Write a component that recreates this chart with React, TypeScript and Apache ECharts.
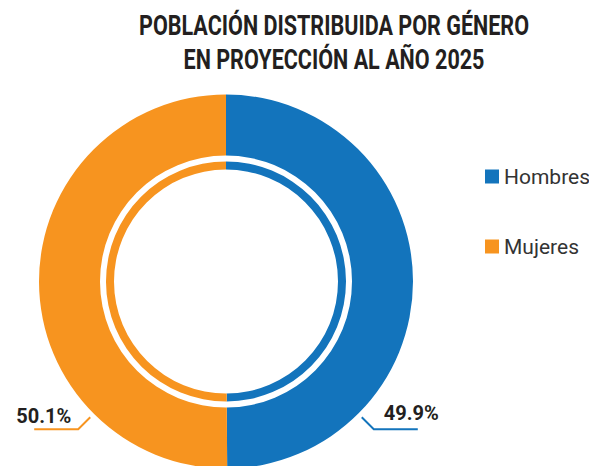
import React, { useEffect, useRef } from "react";
import * as echarts from "echarts";

const titleLines = ["POBLACIÓN DISTRIBUIDA POR GÉNERO", "EN PROYECCIÓN AL AÑO 2025"];
const categories = ["Hombres", "Mujeres"];
const values = [49.9, 50.1];
const colors = ["#1374BC", "#F7941F"];

const CX = 226;
const CY = 281.5;
const R_OUT = 187;
const R_OUT_IN = 126;
const R_IN_OUT = 120;
const R_IN_IN = 112;

const FONT = '"Roboto", "Liberation Sans", sans-serif';

export default function App() {
  const ref = useRef<HTMLDivElement>(null);
  useEffect(() => {
    if (!ref.current) return;
    const chart = echarts.init(ref.current, null, { renderer: "svg" });
    const data = categories.map((name, i) => ({
      name,
      value: values[i],
      itemStyle: { color: colors[i] },
    }));
    const cos45 = Math.SQRT1_2;
    chart.setOption({
      animation: false,
      backgroundColor: "#ffffff",
      graphic: [
        {
          type: "text",
          x: 334,
          y: 8,
          scaleX: 0.77,
          style: {
            text: titleLines.join("\n"),
            font: `bold 28px ${FONT}`,
            textAlign: "center",
            textVerticalAlign: "top",
            lineHeight: 34,
            fill: "#231F20",
          },
        },
      ],
      legend: {
        orient: "vertical",
        left: 485,
        top: 166,
        padding: 0,
        itemWidth: 14,
        itemHeight: 14,
        itemGap: 49,
        icon: "rect",
        selectedMode: false,
        data: categories,
        textStyle: {
          fontFamily: FONT,
          fontSize: 21,
          lineHeight: 20,
          color: "#333333",
        },
      },
      series: [
        {
          type: "pie",
          center: [CX, CY],
          radius: [R_OUT_IN, R_OUT],
          startAngle: 90,
          clockwise: true,
          silent: true,
          data,
          label: {
            show: true,
            position: "outside",
            formatter: (p: any) => `${Number(p.value).toFixed(1)}%`,
            fontFamily: FONT,
            fontWeight: "bold",
            fontSize: 20,
            width: 70,
            overflow: "none",
            color: "#231F20",
          },
          labelLine: {
            show: true,
            lineStyle: { width: 2 },
          },
          labelLayout: (p: any) => {
            const right = p.dataIndex === 0;
            const s = right ? 1 : -1;
            const r1 = R_OUT + 5;
            const r2 = R_OUT + 22;
            const p1 = [CX + s * r1 * cos45, CY + r1 * cos45];
            const p2 = [CX + s * r2 * cos45, CY + r2 * cos45];
            const p3 = [p2[0] + s * 44, p2[1]];
            return {
              x: right ? p2[0] + 10 : p2[0] - 7,
              y: right ? p2[1] - 16 : p2[1] - 13,
              align: right ? "left" : "right",
              verticalAlign: "middle",
              labelLinePoints: [p1, p2, p3],
            };
          },
        },
        {
          type: "pie",
          center: [CX, CY],
          radius: [R_IN_IN, R_IN_OUT],
          startAngle: 90,
          clockwise: true,
          silent: true,
          data,
          label: { show: false },
          labelLine: { show: false },
        },
      ],
    });
    return () => chart.dispose();
  }, []);
  return (
    <div
      ref={ref}
      style={{ position: "absolute", left: 0, top: 0, width: 589, height: 466 }}
    />
  );
}
